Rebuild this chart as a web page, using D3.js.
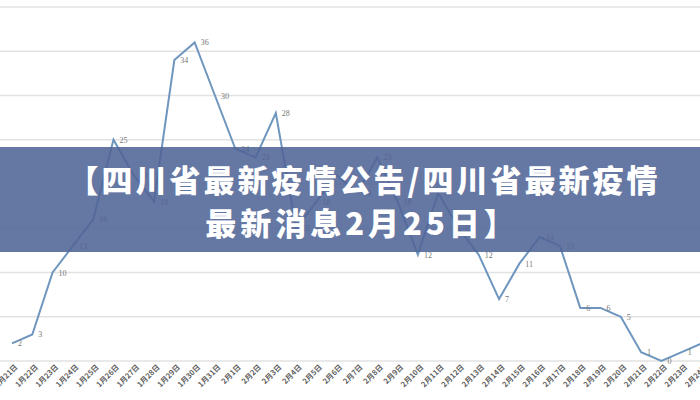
<!DOCTYPE html>
<meta charset="utf-8"/>
<html>
<head>
<script src="https://d3js.org/d3.v7.min.js"></script>
<style>
  * { padding: 0; margin: 0; }
  body { background: #fff; width: 700px; height: 400px; overflow: hidden; }
</style>
</head>
<body>
<div id="chart"></div>
<script>
// daily new cases, 1月21日 .. 2月24日
var dates = ["1月21日","1月22日","1月23日","1月24日","1月25日","1月26日","1月27日","1月28日","1月29日","1月30日","1月31日",
             "2月1日","2月2日","2月3日","2月4日","2月5日","2月6日","2月7日","2月8日","2月9日","2月10日","2月11日",
             "2月12日","2月13日","2月14日","2月15日","2月16日","2月17日","2月18日","2月19日","2月20日","2月21日",
             "2月22日","2月23日","2月24日"];
var cases = [2, 3, 10, 13, 16, 25, 21, 18, 34, 36, 30,
             24, 23, 28, 15, 18, 21, 19, 23, 18, 12, 19,
             15, 12, 7, 11, 14, 13, 6, 6, 5, 1,
             0, 1, 2];
var yTicks = [0, 5, 10, 15, 20, 25, 30, 35, 40];
var titleLines = ["【四川省最新疫情公告/四川省最新疫情", "最新消息2月25日】"];

var width = 700, height = 400;

var svg = d3.select("#chart").append("svg")
    .attr("width", width)
    .attr("height", height);

var x = d3.scalePoint().domain(dates).range([12, 702]);
var y = d3.scaleLinear().domain([0, 40]).range([361, 7]);

// gridlines
svg.append("g")
    .selectAll("line")
    .data(yTicks)
    .join("line")
    .attr("x1", 0).attr("x2", width)
    .attr("y1", d => y(d)).attr("y2", d => y(d))
    .attr("stroke", "#e2e2e2")
    .attr("stroke-width", 1.3);

// x axis labels, rotated
var xAxis = d3.axisBottom(x).tickSize(0).tickPadding(0);
var gx = svg.append("g")
    .attr("transform", "translate(0,365)")
    .call(xAxis);
gx.select(".domain").remove();
gx.selectAll("text")
    .attr("transform", "translate(3,0) rotate(-45)")
    .attr("dy", "0.5em")
    .style("text-anchor", "end")
    .style("font-family", "Noto Sans CJK SC")
    .style("font-size", "7.5px")
    .style("font-weight", 700)
    .style("fill", "#5f5f5f");

// line
var line = d3.line()
    .x((d, i) => x(dates[i]))
    .y(d => y(d));

svg.append("path")
    .datum(cases)
    .attr("d", line)
    .attr("fill", "none")
    .attr("stroke", "#6f96bf")
    .attr("stroke-width", 2)
    .attr("stroke-linejoin", "miter");

// value labels
svg.append("g")
    .selectAll("text")
    .data(cases)
    .join("text")
    .attr("x", (d, i) => x(dates[i]) + 6)
    .attr("y", d => y(d) + 3)
    .style("font-family", "Liberation Serif")
    .style("font-size", "8px")
    .style("fill", "#777")
    .text(d => d);

// title banner
svg.append("rect")
    .attr("x", 0).attr("y", 147)
    .attr("width", width).attr("height", 105)
    .attr("fill", "rgb(80,100,150)")
    .attr("fill-opacity", 0.88);

svg.append("g")
    .selectAll("text")
    .data(titleLines)
    .join("text")
    .attr("x", (d, i) => i === 0 ? 364 : 362)
    .attr("y", (d, i) => 192 + i * 43)
    .attr("text-anchor", "middle")
    .style("font-family", "Noto Sans CJK SC")
    .style("font-weight", 900)
    .style("font-size", "31px")
    .style("letter-spacing", (d, i) => i === 0 ? "3px" : "4px")
    .style("fill", "#fff")
    .text(d => d);
</script>
</body>
</html>
